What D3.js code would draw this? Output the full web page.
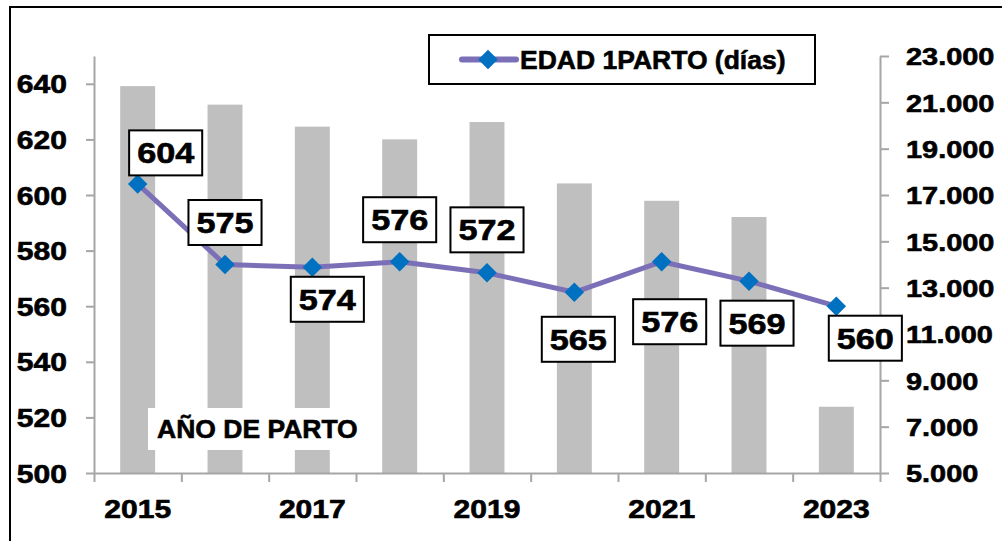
<!DOCTYPE html>
<html>
<head>
<meta charset="utf-8">
<script src="https://cdn.jsdelivr.net/npm/d3@7"></script>
<style>
  body { margin: 0; background: #fff; }
  text { font-family: "Liberation Sans", Arial, sans-serif; font-weight: bold; fill: #000; stroke: #000; stroke-width: 0.6px; }
</style>
</head>
<body>
<script>
// data
var years = [2015, 2016, 2017, 2018, 2019, 2020, 2021, 2022, 2023];
var edadParto = [604, 575, 574, 576, 572, 565, 576, 569, 560];      // left axis, line
var partos = [21700, 20900, 19950, 19400, 20150, 17500, 16750, 16050, 7860]; // right axis, bars
var leftTicks = [500, 520, 540, 560, 580, 600, 620, 640];
var rightTicks = [5000, 7000, 9000, 11000, 13000, 15000, 17000, 19000, 21000, 23000];
var shownYears = [2015, 2017, 2019, 2021, 2023];

// where each value box sits relative to its point (px)
var labelDx = [28, 0, 15, 0, 0, 4, 8, 8, 29];
var labelDy = [-31, -42, 32, -42, -43, 47, 60, 42, 32];

var width = 1002, height = 541;
var plot = {left: 94, right: 880, top: 56, bottom: 473};
var stretch = 1.18;   // digits in the original are wider than Arial's
var axisColor = "#a6a6a6";

var svg = d3.select("body").append("svg")
  .attr("width", width)
  .attr("height", height);

// outer frame
svg.append("rect")
  .attr("x", 10).attr("y", 7)
  .attr("width", 1010).attr("height", 560)
  .attr("fill", "#fff")
  .attr("stroke", "#000")
  .attr("stroke-width", 2);

// scales
var x = d3.scaleBand()
  .domain(years)
  .range([plot.left, plot.right])
  .paddingInner(0.6)
  .paddingOuter(0.3);
var xCat = d3.scaleBand()
  .domain(years)
  .range([plot.left, plot.right]);
var xEdge = d3.scaleLinear()
  .domain([0, years.length])
  .range([plot.left, plot.right]);
var yLeft = d3.scaleLinear()
  .domain([500, 650])
  .range([plot.bottom, plot.top]);
var yRight = d3.scaleLinear()
  .domain([5000, 23000])
  .range([plot.bottom, plot.top]);

var fmtMiles = d3.formatLocale({decimal: ",", thousands: ".", grouping: [3], currency: ["", ""]}).format(",");

// bars
svg.selectAll(".bar")
  .data(years)
  .enter().append("rect")
  .attr("class", "bar")
  .attr("x", function (d) { return x(d); })
  .attr("width", x.bandwidth())
  .attr("y", function (d, i) { return yRight(partos[i]); })
  .attr("height", function (d, i) { return plot.bottom - yRight(partos[i]); })
  .attr("fill", "#bfbfbf");

// x axis title box over the bars
var title = svg.append("g");
title.append("rect")
  .attr("x", 148).attr("y", 408)
  .attr("width", 226).attr("height", 42)
  .attr("fill", "#fff");
title.append("text")
  .attr("x", 157).attr("y", 438)
  .style("font-size", "26.5px")
  .text("AÑO DE PARTO");

function styleAxis(g) {
  g.selectAll("path, line")
    .attr("stroke", axisColor)
    .attr("stroke-width", 2);
}

// left axis
var gLeft = svg.append("g")
  .attr("transform", "translate(" + plot.left + ",0)")
  .call(d3.axisLeft(yLeft).tickValues(leftTicks).tickSize(8).tickSizeOuter(0));
styleAxis(gLeft);
gLeft.selectAll("text")
  .attr("x", null).attr("dy", "0.36em")
  .attr("transform", "translate(-27,0) scale(" + stretch + ",1)")
  .style("font-size", "25.5px")
  .attr("fill", "#000");

// right axis
var gRight = svg.append("g")
  .attr("transform", "translate(" + plot.right + ",0)")
  .call(d3.axisRight(yRight).tickValues(rightTicks).tickSize(9).tickSizeOuter(0).tickFormat(fmtMiles));
styleAxis(gRight);
gRight.selectAll("text")
  .attr("x", null).attr("dy", "0.36em")
  .attr("transform", "translate(26,0) scale(" + stretch + ",1)")
  .style("font-size", "24.5px")
  .attr("fill", "#000");

// bottom axis: tick marks between categories
var gBottom = svg.append("g")
  .attr("transform", "translate(0," + plot.bottom + ")")
  .call(d3.axisBottom(xEdge).ticks(years.length).tickSize(9).tickSizeOuter(0).tickFormat(""));
styleAxis(gBottom);

// bottom axis labels, every other year
var gYears = svg.append("g")
  .attr("transform", "translate(0," + plot.bottom + ")")
  .call(d3.axisBottom(xCat).tickSize(0).tickFormat(function (d) {
    return shownYears.indexOf(d) >= 0 ? String(d) : "";
  }));
gYears.select(".domain").remove();
gYears.selectAll("text")
  .attr("y", null).attr("dy", null)
  .attr("transform", "translate(0,45) scale(" + stretch + ",1)")
  .style("font-size", "25.5px")
  .attr("fill", "#000");

// line
var line = d3.line()
  .x(function (d, i) { return xCat(years[i]) + xCat.bandwidth() / 2; })
  .y(function (d) { return yLeft(d); });

svg.append("path")
  .datum(edadParto)
  .attr("d", line)
  .attr("fill", "none")
  .attr("stroke", "#7b70b8")
  .attr("stroke-width", 5)
  .attr("stroke-linejoin", "round");

var diamond = d3.symbol().type(d3.symbolSquare).size(190);

svg.selectAll(".marker")
  .data(edadParto)
  .enter().append("path")
  .attr("class", "marker")
  .attr("d", diamond)
  .attr("transform", function (d, i) {
    return "translate(" + (xCat(years[i]) + xCat.bandwidth() / 2) + "," + yLeft(d) + ") rotate(45)";
  })
  .attr("fill", "#0070c0");

// value boxes
var labels = svg.selectAll(".label")
  .data(edadParto)
  .enter().append("g")
  .attr("class", "label")
  .attr("transform", function (d, i) {
    var cx = xCat(years[i]) + xCat.bandwidth() / 2 + labelDx[i];
    var cy = yLeft(d) + labelDy[i];
    return "translate(" + cx + "," + cy + ")";
  });

labels.append("rect");
labels.append("text")
  .attr("text-anchor", "middle")
  .attr("dy", "0.36em")
  .attr("transform", "scale(" + stretch + ",1)")
  .style("font-size", "29px")
  .text(function (d) { return d; });

labels.each(function () {
  var g = d3.select(this);
  var w = g.select("text").node().getComputedTextLength() * stretch + 16;
  g.select("rect")
    .attr("x", -w / 2).attr("y", -22.5)
    .attr("width", w).attr("height", 45)
    .attr("fill", "#fff")
    .attr("stroke", "#000")
    .attr("stroke-width", 2);
});

// legend
var legend = svg.append("g");
legend.append("rect")
  .attr("x", 429).attr("y", 35)
  .attr("width", 386).attr("height", 49)
  .attr("fill", "#fff")
  .attr("stroke", "#000")
  .attr("stroke-width", 2);
legend.append("line")
  .attr("x1", 462).attr("x2", 516)
  .attr("y1", 59.5).attr("y2", 59.5)
  .attr("stroke", "#7b70b8")
  .attr("stroke-width", 6)
  .attr("stroke-linecap", "round");
legend.append("path")
  .attr("d", diamond)
  .attr("transform", "translate(488,59.5) rotate(45)")
  .attr("fill", "#0070c0");
legend.append("text")
  .attr("x", 520).attr("y", 68.5)
  .style("font-size", "26.5px")
  .text("EDAD 1PARTO (días)");
</script>
</body>
</html>
